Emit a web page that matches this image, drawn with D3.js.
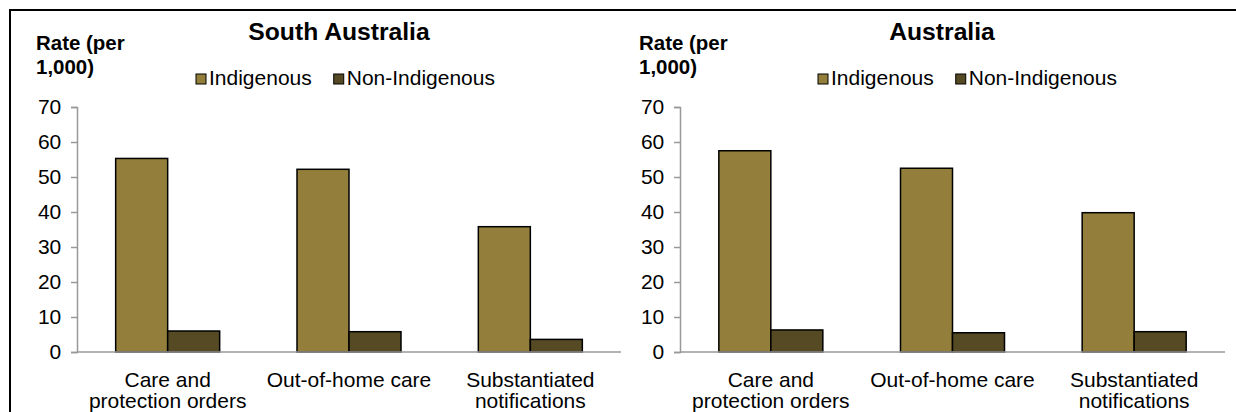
<!DOCTYPE html>
<html><head><meta charset="utf-8">
<script src="https://cdn.jsdelivr.net/npm/d3@7"></script>
<style>
body{margin:0;background:#fff;}
svg{display:block;font-family:"Liberation Sans",Arial,sans-serif;}
</style></head>
<body><svg id="c" width="1236" height="412"></svg>
<script>
const categories = [["Care and","protection orders"],["Out-of-home care"],["Substantiated","notifications"]];
const seriesNames = ["Indigenous","Non-Indigenous"];
const titles = ["South Australia","Australia"];
const saIndigenous = [55.3, 52.2, 35.8];
const saNonIndigenous = [6.0, 5.8, 3.6];
const ausIndigenous = [57.5, 52.5, 39.8];
const ausNonIndigenous = [6.3, 5.5, 5.8];
const yTicks = [0,10,20,30,40,50,60,70];
const colors = ["#937f3b","#564a24"];

const panels = [
  {title: titles[0], vals:[saIndigenous, saNonIndigenous], x0:77, x1:621, titleX:339, legX:196},
  {title: titles[1], vals:[ausIndigenous, ausNonIndigenous], x0:680, x1:1225, titleX:942, legX:818}
];
const SX = 1.05;
const svg = d3.select("#c");

// outer frame
svg.append("path").attr("d","M10,412 L10,10 L1236,10").attr("fill","none").attr("stroke","#000").attr("stroke-width",2);

function stext(g, x, y, txt, size, weight, anchor){
  return g.append("text").attr("transform",`translate(${x},${y}) scale(${SX},1)`)
    .attr("text-anchor",anchor||"start").attr("font-size",size).attr("font-weight",weight||"normal")
    .attr("fill","#000").text(txt);
}

panels.forEach((p,pi)=>{
  const g = svg.append("g");
  const y = d3.scaleLinear().domain([0,70]).range([352,107]);
  const x = d3.scaleBand().domain(d3.range(categories.length)).range([p.x0,p.x1]);
  const xs = d3.scaleBand().domain(seriesNames).range([-52,52]);

  // y axis
  const ya = g.append("g").attr("transform",`translate(${p.x0},0)`)
    .call(d3.axisLeft(y).tickValues(yTicks).tickSize(6).tickPadding(9));
  ya.select(".domain").attr("stroke","#999").attr("stroke-width",1.5);
  ya.selectAll(".tick line").attr("stroke","#999").attr("stroke-width",1.5);
  ya.selectAll(".tick text").attr("font-size",20).attr("font-family","Liberation Sans, Arial, sans-serif")
    .attr("fill","#000").attr("transform",`scale(${SX},1)`);

  // bars
  seriesNames.forEach((s,si)=>{
    g.selectAll(null).data(p.vals[si]).enter().append("rect")
      .attr("x",(d,i)=>x(i)+x.bandwidth()/2+xs(s))
      .attr("width",xs.bandwidth())
      .attr("y",d=>y(d)).attr("height",d=>y(0)-y(d))
      .attr("fill",colors[si]).attr("stroke","#000").attr("stroke-width",1.5);
  });

  // x axis line
  g.append("line").attr("x1",p.x0).attr("x2",p.x1).attr("y1",y(0)).attr("y2",y(0))
    .attr("stroke","#999").attr("stroke-width",1.5);

  // category labels
  categories.forEach((lines,i)=>{
    lines.forEach((ln,li)=>{
      stext(g, x(i)+x.bandwidth()/2, 387+li*21, ln, 20, "normal", "middle");
    });
  });

  // title
  stext(g, p.titleX, 40, p.title, 23.5, "bold", "middle");
  // y label
  stext(g, p.x0-41, 50, "Rate (per", 19.5, "bold");
  stext(g, p.x0-41, 74, "1,000)", 19.5, "bold");

  // legend
  let lx = p.legX;
  seriesNames.forEach((s,si)=>{
    g.append("rect").attr("x",lx).attr("y",74).attr("width",10).attr("height",10)
      .attr("fill",colors[si]).attr("stroke","#000").attr("stroke-width",1);
    const t = stext(g, lx+13, 85, s, 20, "normal");
    const w = t.node().getBBox().width*SX;
    lx = lx + 13 + w + 22;
  });
});
</script></body></html>
